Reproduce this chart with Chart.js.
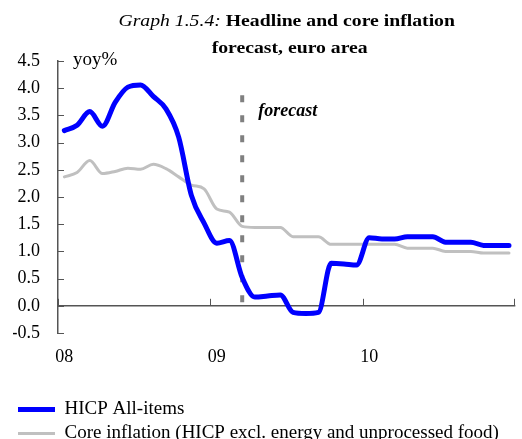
<!DOCTYPE html>
<html>
<head>
<meta charset="utf-8">
<title>Headline and core inflation forecast, euro area</title>
<script src="https://cdn.jsdelivr.net/npm/chart.js@4.4.1/dist/chart.umd.min.js"></script>
<style>
  html, body { margin: 0; padding: 0; background: #fff; }
  #wrap { width: 522px; height: 439px; }
</style>
</head>
<body>
<div id="wrap"><canvas id="inflationChart"></canvas></div>
<script>
// ── Data ──────────────────────────────────────────────
const months = [
  'Jan-08', 'Feb-08', 'Mar-08', 'Apr-08', 'May-08', 'Jun-08', 'Jul-08', 'Aug-08', 'Sep-08', 'Oct-08', 'Nov-08', 'Dec-08',
  'Jan-09', 'Feb-09', 'Mar-09', 'Apr-09', 'May-09', 'Jun-09', 'Jul-09', 'Aug-09', 'Sep-09', 'Oct-09', 'Nov-09', 'Dec-09',
  'Jan-10', 'Feb-10', 'Mar-10', 'Apr-10', 'May-10', 'Jun-10', 'Jul-10', 'Aug-10', 'Sep-10', 'Oct-10', 'Nov-10', 'Dec-10'
];
const hicpAll = [
  3.22, 3.32, 3.57, 3.30, 3.74, 4.02, 4.06, 3.85, 3.62, 3.10, 2.03, 1.52,
  1.15, 1.20, 0.52, 0.16, 0.18, 0.20, -0.12, -0.14, -0.12, 0.78, 0.77, 0.75,
  1.25, 1.23, 1.23, 1.27, 1.27, 1.27, 1.17, 1.17, 1.17, 1.11, 1.11, 1.11
];
const coreInflation = [
  2.37, 2.45, 2.67, 2.43, 2.47, 2.53, 2.51, 2.60, 2.52, 2.37, 2.22, 2.15,
  1.78, 1.72, 1.46, 1.44, 1.44, 1.44, 1.27, 1.27, 1.27, 1.13, 1.13, 1.13,
  1.13, 1.13, 1.13, 1.06, 1.06, 1.06, 1.00, 1.00, 1.00, 0.97, 0.97, 0.97
];
const yearLabels = ['08', '09', '10'];
const seriesNames = ['HICP All-items', 'Core inflation (HICP excl. energy and unprocessed food)'];
const forecastStart = 'Mar-09';
const forecastTop = 3.87;
const yMin = -0.5, yMax = 4.5, yStep = 0.5;

const FONT = '"Liberation Serif", "Times New Roman", serif';
const AXIS_GREY = '#555555';

// draws mixed-style text, stretched horizontally like the original
function drawParts(ctx, parts, cx, baseline, sx) {
    let total = 0;
    parts.forEach(p => { ctx.font = p.font; p.w = ctx.measureText(p.text).width; total += p.w; });
    ctx.save();
    ctx.translate(cx - total * sx / 2, baseline);
    ctx.scale(sx, 1);
    let x = 0;
    parts.forEach(p => { ctx.font = p.font; ctx.fillText(p.text, x, 0); x += p.w; });
    ctx.restore();
}

// ── Extra decorations: zero axis, inward ticks, forecast marker, texts ──
const decorations = {
    id: 'decorations',
    beforeDatasetsDraw(chart) {
        const { ctx, chartArea, scales: { x, y } } = chart;
        const y0 = y.getPixelForValue(0);
        ctx.save();

        // forecast divider
        const fx = x.getPixelForValue(months.indexOf(forecastStart));
        ctx.strokeStyle = '#808080';
        ctx.lineWidth = 4;
        ctx.setLineDash([7, 13]);
        ctx.beginPath();
        ctx.moveTo(fx, y.getPixelForValue(forecastTop));
        ctx.lineTo(fx, y0);
        ctx.stroke();
        ctx.setLineDash([]);

        // x axis on zero
        ctx.strokeStyle = AXIS_GREY;
        ctx.lineWidth = 1.5;
        ctx.beginPath();
        ctx.moveTo(chartArea.left, y0);
        ctx.lineTo(chartArea.right, y0);
        ctx.stroke();

        // year boundary ticks pointing up
        ctx.lineWidth = 1;
        months.forEach((m, i) => {
            if (i % 12 !== 0) return;
            const px = Math.round(x.getPixelForValue(i - 0.5)) + 0.5;
            ctx.beginPath(); ctx.moveTo(px, y0); ctx.lineTo(px, y0 - 7); ctx.stroke();
        });
        const endX = Math.round(x.getPixelForValue(months.length - 0.5)) - 0.5;
        ctx.beginPath(); ctx.moveTo(endX, y0); ctx.lineTo(endX, y0 - 7); ctx.stroke();

        // y ticks pointing inward
        for (let v = yMin; v <= yMax + 1e-9; v += yStep) {
            const py = Math.round(y.getPixelForValue(v)) + 0.5;
            ctx.beginPath(); ctx.moveTo(chartArea.left, py); ctx.lineTo(chartArea.left + 6, py); ctx.stroke();
        }
        ctx.restore();
    },
    afterDraw(chart) {
        const { ctx, chartArea, scales: { x, y } } = chart;
        const cx = (chartArea.left + chartArea.right) / 2;
        ctx.save();
        ctx.fillStyle = '#000';
        ctx.textBaseline = 'alphabetic';
        ctx.textAlign = 'left';

        drawParts(ctx, [
            { text: 'Graph 1.5.4: ', font: 'italic 17px ' + FONT },
            { text: 'Headline and core inflation', font: 'bold 17px ' + FONT }
        ], cx, 26, 1.16);
        drawParts(ctx, [
            { text: 'forecast, euro area', font: 'bold 17px ' + FONT }
        ], cx + 3, 53, 1.16);

        // unit label
        ctx.font = '19px ' + FONT;
        ctx.fillText('yoy%', chartArea.left + 15, y.getPixelForValue(yMax) + 4);

        // forecast label
        ctx.font = 'italic bold 18px ' + FONT;
        ctx.fillText('forecast', x.getPixelForValue(months.indexOf(forecastStart)) + 16, y.getPixelForValue(3.48));
        ctx.restore();
    }
};

// ── Chart ─────────────────────────────────────────────
const ctx = document.getElementById('inflationChart');
new Chart(ctx, {
    type: 'line',
    data: {
        labels: months,
        datasets: [
            {
                label: seriesNames[0], data: hicpAll,
                borderColor: '#0000ff', backgroundColor: '#0000ff',
                borderWidth: 5, borderCapStyle: 'round', borderJoinStyle: 'round',
                pointRadius: 0, cubicInterpolationMode: 'monotone', fill: false
            },
            {
                label: seriesNames[1], data: coreInflation,
                borderColor: '#c0c0c0', backgroundColor: '#c0c0c0',
                borderWidth: 3, borderCapStyle: 'round', borderJoinStyle: 'round',
                pointRadius: 0, cubicInterpolationMode: 'monotone', fill: false
            }
        ]
    },
    options: {
        responsive: true,
        maintainAspectRatio: false,
        animation: false,
        layout: { padding: { top: 61, left: 13, right: 1, bottom: 0 } },
        scales: {
            x: {
                type: 'category',
                offset: true,
                grid: { display: false, drawTicks: false },
                border: { display: false },
                ticks: {
                    autoSkip: false, maxRotation: 0, padding: 13,
                    color: '#000', font: { family: FONT, size: 18 },
                    callback: (val, i) => (i % 12 === 0 ? yearLabels[i / 12] : '')
                },
                afterFit: s => { s.height = 62; }
            },
            y: {
                min: yMin, max: yMax,
                grid: { display: true, drawOnChartArea: false, drawTicks: false },
                border: { display: true, color: AXIS_GREY, width: 1.5 },
                ticks: {
                    stepSize: yStep, padding: 18,
                    color: '#000', font: { family: FONT, size: 18 },
                    callback: v => v.toFixed(1)
                },
                afterFit: s => { s.width = 45; }
            }
        },
        plugins: {
            title: { display: false },
            tooltip: { enabled: false },
            legend: {
                position: 'bottom', align: 'start', maxHeight: 44,
                labels: {
                    usePointStyle: true, pointStyle: 'line', pointStyleWidth: 37,
                    padding: 5, color: '#000',
                    font: { family: FONT, size: 19 }
                }
            }
        }
    },
    plugins: [decorations]
});
</script>
</body>
</html>
